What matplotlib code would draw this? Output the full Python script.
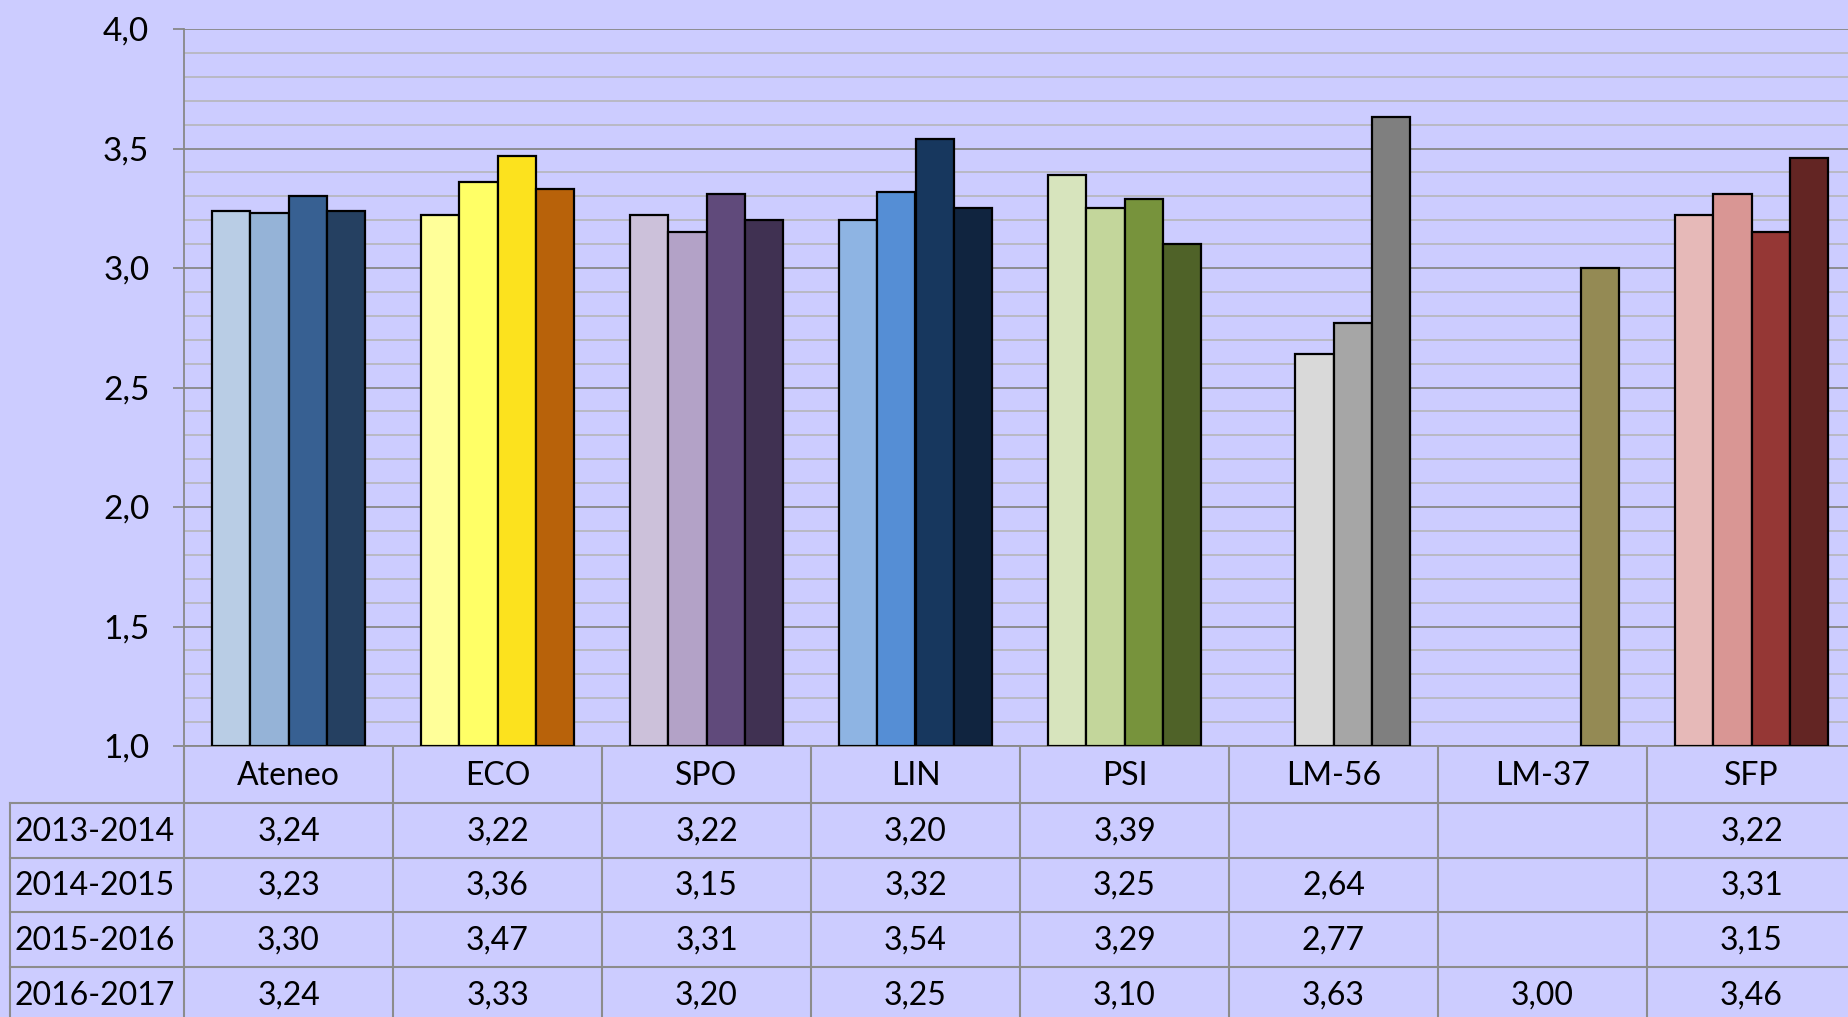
import numpy as np
import matplotlib.pyplot as plt
from matplotlib.ticker import MultipleLocator, FuncFormatter

plt.rcParams['font.family'] = ['Lato', 'DejaVu Sans']

# ---- data ----
categories = ['Ateneo', 'ECO', 'SPO', 'LIN', 'PSI', 'LM-56', 'LM-37', 'SFP']
years = ['2013-2014', '2014-2015', '2015-2016', '2016-2017']
nan = np.nan
v2013 = [3.24, 3.22, 3.22, 3.20, 3.39, nan, nan, 3.22]
v2014 = [3.23, 3.36, 3.15, 3.32, 3.25, 2.64, nan, 3.31]
v2015 = [3.30, 3.47, 3.31, 3.54, 3.29, 2.77, nan, 3.15]
v2016 = [3.24, 3.33, 3.20, 3.25, 3.10, 3.63, 3.00, 3.46]
series = [v2013, v2014, v2015, v2016]

# one colour family per category, light -> dark by year
palette = {
    'Ateneo': ['#B9CDE5', '#95B3D7', '#376092', '#254061'],
    'ECO':    ['#FFFF99', '#FFFF66', '#FCE21E', '#B8620A'],
    'SPO':    ['#CCC1DA', '#B3A2C7', '#604A7B', '#403152'],
    'LIN':    ['#8EB4E3', '#558ED5', '#17375E', '#10243F'],
    'PSI':    ['#D7E4BD', '#C3D69B', '#77933C', '#4F6228'],
    'LM-56':  ['#F2F2F2', '#D9D9D9', '#A6A6A6', '#7F7F7F'],
    'LM-37':  ['#DDD9C3', '#C4BD97', '#B0A66F', '#948A54'],
    'SFP':    ['#E6B9B8', '#D99694', '#953735', '#632523'],
}

bg = '#CCCCFF'
grid_major = '#888888'
grid_minor = '#B4B4B4'
table_line = '#8C8C8C'
fs = 23

W, H = 1848, 1017
fig = plt.figure(figsize=(W / 100, H / 100), dpi=100, facecolor=bg)

# plot area: one group is 209 px wide, the last column runs past the edge
ax_left, ax_top, ax_bottom, col_w = 184, 29, 746, 209
ax_right = ax_left + 8 * col_w
ax = fig.add_axes([ax_left / W, 1 - ax_bottom / H, (ax_right - ax_left) / W,
                   (ax_bottom - ax_top) / H])
ax.set_facecolor(bg)
ax.set_xlim(0, 8)
ax.set_ylim(1, 4)

x = np.arange(len(categories)) + 0.5
bw = 0.182
for i, vals in enumerate(series):
    vals = np.array(vals, dtype=float)
    ok = ~np.isnan(vals)
    cols = [palette[c][i] for c in categories]
    ax.bar(x[ok] + (i - 1.5) * bw, vals[ok] - 1, bw, bottom=1,
           color=np.array(cols)[ok], edgecolor='black', linewidth=1.6,
           zorder=3)

ax.yaxis.set_major_locator(MultipleLocator(0.5))
ax.yaxis.set_minor_locator(MultipleLocator(0.1))
ax.yaxis.set_major_formatter(FuncFormatter(lambda v, p: f'{v:.1f}'.replace('.', ',')))
ax.grid(which='major', axis='y', color=grid_major, linewidth=1.3, zorder=1)
ax.grid(which='minor', axis='y', color=grid_minor, linewidth=1.1, zorder=1)
ax.tick_params(axis='y', which='major', length=8, width=1.3, color=grid_major,
               labelsize=fs + 1, pad=17)
ax.tick_params(axis='y', which='minor', length=0)
ax.tick_params(axis='x', length=0, labelbottom=False)
for s in ['top', 'right']:
    ax.spines[s].set_visible(False)
for s in ['left', 'bottom']:
    ax.spines[s].set_color(grid_major)
    ax.spines[s].set_linewidth(1.3)

# ---- data table under the bars ----
tab_left, tab_bottom = 10, 1022
tax = fig.add_axes([tab_left / W, 1 - tab_bottom / H, (ax_right - tab_left) / W,
                    (tab_bottom - ax_bottom) / H])
tax.set_xlim(-(ax_left - tab_left) / col_w, 8)
tax.set_ylim(tab_bottom - ax_bottom, 0)
tax.axis('off')
xl = tax.get_xlim()[0]

row_edges = [0, 57, 112, 166, 221, 276]
lk = dict(color=table_line, linewidth=1.5, clip_on=False)
for y in row_edges[1:-1]:
    tax.plot([xl, 8], [y, y], **lk)
tax.plot([xl, xl], [row_edges[1], row_edges[-1]], **lk)
for k in range(9):
    tax.plot([k, k], [0, row_edges[-1]], **lk)

tk = dict(fontsize=fs, va='center', ha='center')
for j, cat in enumerate(categories):
    tax.text(j + 0.5, (row_edges[0] + row_edges[1]) / 2 + 1, cat, **tk)
for r, (yr, vals) in enumerate(zip(years, series)):
    yc = (row_edges[r + 1] + row_edges[r + 2]) / 2 + 1
    tax.text(xl + 0.02, yc, yr, fontsize=fs, va='center', ha='left')
    for j, v in enumerate(vals):
        if not np.isnan(v):
            tax.text(j + 0.5, yc, f'{v:.2f}'.replace('.', ','), **tk)

fig.savefig('out.png', dpi=100, facecolor=bg)
